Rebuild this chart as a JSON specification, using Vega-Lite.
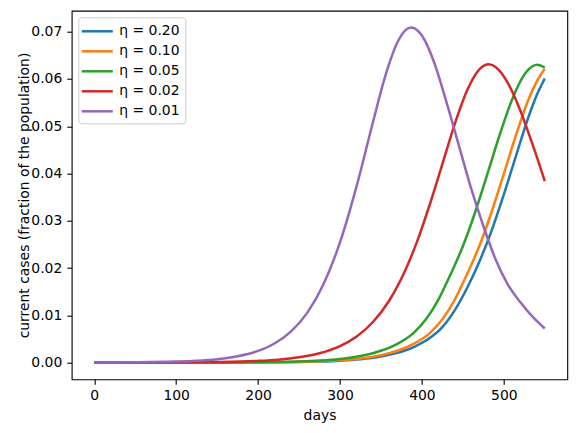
{
  "$schema": "https://vega.github.io/schema/vega-lite/v6.json",
  "width": 495.6,
  "height": 368.6,
  "autosize": {"type": "none"},
  "padding": {"left": 71.7, "top": 10.7, "right": 8.7, "bottom": 53.7},
  "background": "white",
  "config": {
    "view": {"stroke": "black", "strokeWidth": 1.1},
    "font": "DejaVu Sans",
    "axis": {
      "domain": false,
      "grid": false,
      "tickColor": "black",
      "tickWidth": 1.1,
      "tickSize": 4.9,
      "labelFont": "DejaVu Sans",
      "labelFontSize": 13.9,
      "labelColor": "black",
      "titleFont": "DejaVu Sans",
      "titleFontSize": 13.9,
      "titleFontWeight": "normal",
      "titleColor": "black"
    }
  },
  "data": {
    "values": [
      {"series": "η = 0.20", "day": 0, "cases": 0},
      {"series": "η = 0.20", "day": 50, "cases": 0},
      {"series": "η = 0.20", "day": 100, "cases": 0.000003},
      {"series": "η = 0.20", "day": 150, "cases": 0.00001},
      {"series": "η = 0.20", "day": 200, "cases": 0.000035},
      {"series": "η = 0.20", "day": 250, "cases": 0.000116},
      {"series": "η = 0.20", "day": 275, "cases": 0.000211},
      {"series": "η = 0.20", "day": 300, "cases": 0.000386},
      {"series": "η = 0.20", "day": 325, "cases": 0.000695},
      {"series": "η = 0.20", "day": 350, "cases": 0.00127},
      {"series": "η = 0.20", "day": 370, "cases": 0.00205},
      {"series": "η = 0.20", "day": 390, "cases": 0.00328},
      {"series": "η = 0.20", "day": 410, "cases": 0.00523},
      {"series": "η = 0.20", "day": 425, "cases": 0.00749},
      {"series": "η = 0.20", "day": 440, "cases": 0.01102},
      {"series": "η = 0.20", "day": 455, "cases": 0.01572},
      {"series": "η = 0.20", "day": 470, "cases": 0.02127},
      {"series": "η = 0.20", "day": 485, "cases": 0.02785},
      {"series": "η = 0.20", "day": 500, "cases": 0.03555},
      {"series": "η = 0.20", "day": 515, "cases": 0.0438},
      {"series": "η = 0.20", "day": 530, "cases": 0.0519},
      {"series": "η = 0.20", "day": 540, "cases": 0.0565},
      {"series": "η = 0.20", "day": 550, "cases": 0.0601},

      {"series": "η = 0.10", "day": 0, "cases": 0},
      {"series": "η = 0.10", "day": 50, "cases": 0},
      {"series": "η = 0.10", "day": 100, "cases": 0.000003},
      {"series": "η = 0.10", "day": 150, "cases": 0.000012},
      {"series": "η = 0.10", "day": 200, "cases": 0.000042},
      {"series": "η = 0.10", "day": 250, "cases": 0.00014},
      {"series": "η = 0.10", "day": 275, "cases": 0.000256},
      {"series": "η = 0.10", "day": 300, "cases": 0.000468},
      {"series": "η = 0.10", "day": 325, "cases": 0.000845},
      {"series": "η = 0.10", "day": 350, "cases": 0.00154},
      {"series": "η = 0.10", "day": 370, "cases": 0.00248},
      {"series": "η = 0.10", "day": 390, "cases": 0.00396},
      {"series": "η = 0.10", "day": 410, "cases": 0.00629},
      {"series": "η = 0.10", "day": 425, "cases": 0.00916},
      {"series": "η = 0.10", "day": 440, "cases": 0.01327},
      {"series": "η = 0.10", "day": 455, "cases": 0.01865},
      {"series": "η = 0.10", "day": 470, "cases": 0.0246},
      {"series": "η = 0.10", "day": 485, "cases": 0.0318},
      {"series": "η = 0.10", "day": 500, "cases": 0.0399},
      {"series": "η = 0.10", "day": 515, "cases": 0.0482},
      {"series": "η = 0.10", "day": 530, "cases": 0.0556},
      {"series": "η = 0.10", "day": 545, "cases": 0.0609},
      {"series": "η = 0.10", "day": 550, "cases": 0.0621},

      {"series": "η = 0.05", "day": 0, "cases": 0},
      {"series": "η = 0.05", "day": 50, "cases": 0.000001},
      {"series": "η = 0.05", "day": 100, "cases": 0.000006},
      {"series": "η = 0.05", "day": 150, "cases": 0.00002},
      {"series": "η = 0.05", "day": 200, "cases": 0.000068},
      {"series": "η = 0.05", "day": 250, "cases": 0.000227},
      {"series": "η = 0.05", "day": 275, "cases": 0.000415},
      {"series": "η = 0.05", "day": 300, "cases": 0.00075},
      {"series": "η = 0.05", "day": 325, "cases": 0.00137},
      {"series": "η = 0.05", "day": 350, "cases": 0.00248},
      {"series": "η = 0.05", "day": 370, "cases": 0.00396},
      {"series": "η = 0.05", "day": 390, "cases": 0.00629},
      {"series": "η = 0.05", "day": 405, "cases": 0.00916},
      {"series": "η = 0.05", "day": 420, "cases": 0.01327},
      {"series": "η = 0.05", "day": 435, "cases": 0.01865},
      {"series": "η = 0.05", "day": 450, "cases": 0.0246},
      {"series": "η = 0.05", "day": 465, "cases": 0.0318},
      {"series": "η = 0.05", "day": 480, "cases": 0.0399},
      {"series": "η = 0.05", "day": 495, "cases": 0.0482},
      {"series": "η = 0.05", "day": 510, "cases": 0.0556},
      {"series": "η = 0.05", "day": 525, "cases": 0.0609},
      {"series": "η = 0.05", "day": 535, "cases": 0.0627},
      {"series": "η = 0.05", "day": 541, "cases": 0.063},
      {"series": "η = 0.05", "day": 550, "cases": 0.0624},

      {"series": "η = 0.02", "day": 0, "cases": 0.000003},
      {"series": "η = 0.02", "day": 50, "cases": 0.00001},
      {"series": "η = 0.02", "day": 100, "cases": 0.000032},
      {"series": "η = 0.02", "day": 150, "cases": 0.000105},
      {"series": "η = 0.02", "day": 200, "cases": 0.00034},
      {"series": "η = 0.02", "day": 225, "cases": 0.00061},
      {"series": "η = 0.02", "day": 250, "cases": 0.0011},
      {"series": "η = 0.02", "day": 275, "cases": 0.00195},
      {"series": "η = 0.02", "day": 300, "cases": 0.00347},
      {"series": "η = 0.02", "day": 320, "cases": 0.00546},
      {"series": "η = 0.02", "day": 340, "cases": 0.00852},
      {"series": "η = 0.02", "day": 360, "cases": 0.01307},
      {"series": "η = 0.02", "day": 380, "cases": 0.01963},
      {"series": "η = 0.02", "day": 395, "cases": 0.026},
      {"series": "η = 0.02", "day": 410, "cases": 0.03365},
      {"series": "η = 0.02", "day": 425, "cases": 0.042},
      {"series": "η = 0.02", "day": 440, "cases": 0.0504},
      {"series": "η = 0.02", "day": 455, "cases": 0.0575},
      {"series": "η = 0.02", "day": 468, "cases": 0.0616},
      {"series": "η = 0.02", "day": 481, "cases": 0.0631},
      {"series": "η = 0.02", "day": 494, "cases": 0.0619},
      {"series": "η = 0.02", "day": 507, "cases": 0.0585},
      {"series": "η = 0.02", "day": 520, "cases": 0.0534},
      {"series": "η = 0.02", "day": 535, "cases": 0.0462},
      {"series": "η = 0.02", "day": 550, "cases": 0.0384},

      {"series": "η = 0.01", "day": 0, "cases": 0.000016},
      {"series": "η = 0.01", "day": 50, "cases": 0.000056},
      {"series": "η = 0.01", "day": 100, "cases": 0.000198},
      {"series": "η = 0.01", "day": 125, "cases": 0.000373},
      {"series": "η = 0.01", "day": 150, "cases": 0.0007},
      {"series": "η = 0.01", "day": 175, "cases": 0.00131},
      {"series": "η = 0.01", "day": 200, "cases": 0.00245},
      {"series": "η = 0.01", "day": 220, "cases": 0.00402},
      {"series": "η = 0.01", "day": 240, "cases": 0.00654},
      {"series": "η = 0.01", "day": 260, "cases": 0.01051},
      {"series": "η = 0.01", "day": 280, "cases": 0.01661},
      {"series": "η = 0.01", "day": 300, "cases": 0.02542},
      {"series": "η = 0.01", "day": 320, "cases": 0.03713},
      {"series": "η = 0.01", "day": 340, "cases": 0.05069},
      {"series": "η = 0.01", "day": 355, "cases": 0.06045},
      {"series": "η = 0.01", "day": 370, "cases": 0.06772},
      {"series": "η = 0.01", "day": 380, "cases": 0.07035},
      {"series": "η = 0.01", "day": 387, "cases": 0.0709},
      {"series": "η = 0.01", "day": 400, "cases": 0.0692},
      {"series": "η = 0.01", "day": 415, "cases": 0.0635},
      {"series": "η = 0.01", "day": 430, "cases": 0.0551},
      {"series": "η = 0.01", "day": 445, "cases": 0.046},
      {"series": "η = 0.01", "day": 460, "cases": 0.0369},
      {"series": "η = 0.01", "day": 475, "cases": 0.0289},
      {"series": "η = 0.01", "day": 490, "cases": 0.0218},
      {"series": "η = 0.01", "day": 505, "cases": 0.0165},
      {"series": "η = 0.01", "day": 520, "cases": 0.0128},
      {"series": "η = 0.01", "day": 535, "cases": 0.0097},
      {"series": "η = 0.01", "day": 550, "cases": 0.0072}
    ]
  },
  "mark": {"type": "line", "strokeWidth": 2.5, "interpolate": "monotone", "clip": true},
  "encoding": {
    "x": {
      "field": "day",
      "type": "quantitative",
      "scale": {"domain": [-27.5, 577.5], "nice": false, "zero": false},
      "axis": {
        "values": [0, 100, 200, 300, 400, 500],
        "format": "d",
        "labelPadding": 4,
        "title": "days",
        "titleY": 29,
        "titleBaseline": "top"
      }
    },
    "y": {
      "field": "cases",
      "type": "quantitative",
      "scale": {"domain": [-0.00355, 0.07445], "nice": false, "zero": false},
      "axis": {
        "values": [0, 0.01, 0.02, 0.03, 0.04, 0.05, 0.06, 0.07],
        "format": ".2f",
        "labelPadding": 5,
        "title": "current cases (fraction of the population)",
        "titleX": -40,
        "titleY": 184.3,
        "titleBaseline": "bottom"
      }
    },
    "color": {
      "field": "series",
      "type": "nominal",
      "sort": ["η = 0.20", "η = 0.10", "η = 0.05", "η = 0.02", "η = 0.01"],
      "scale": {
        "domain": ["η = 0.20", "η = 0.10", "η = 0.05", "η = 0.02", "η = 0.01"],
        "range": ["#1f77b4", "#ff7f0e", "#2ca02c", "#d62728", "#9467bd"]
      },
      "legend": {
        "orient": "none",
        "legendX": 6.6,
        "legendY": 6.6,
        "title": null,
        "symbolType": "M-2,0H2",
        "symbolSize": 240,
        "symbolStrokeWidth": 2.5,
        "symbolOffset": 5,
        "labelOffset": 13,
        "padding": 5,
        "rowPadding": 4,
        "labelFont": "DejaVu Sans",
        "labelFontSize": 13.9,
        "labelColor": "black",
        "fillColor": "rgba(255,255,255,0.8)",
        "strokeColor": "#cccccc",
        "cornerRadius": 3
      }
    }
  }
}
